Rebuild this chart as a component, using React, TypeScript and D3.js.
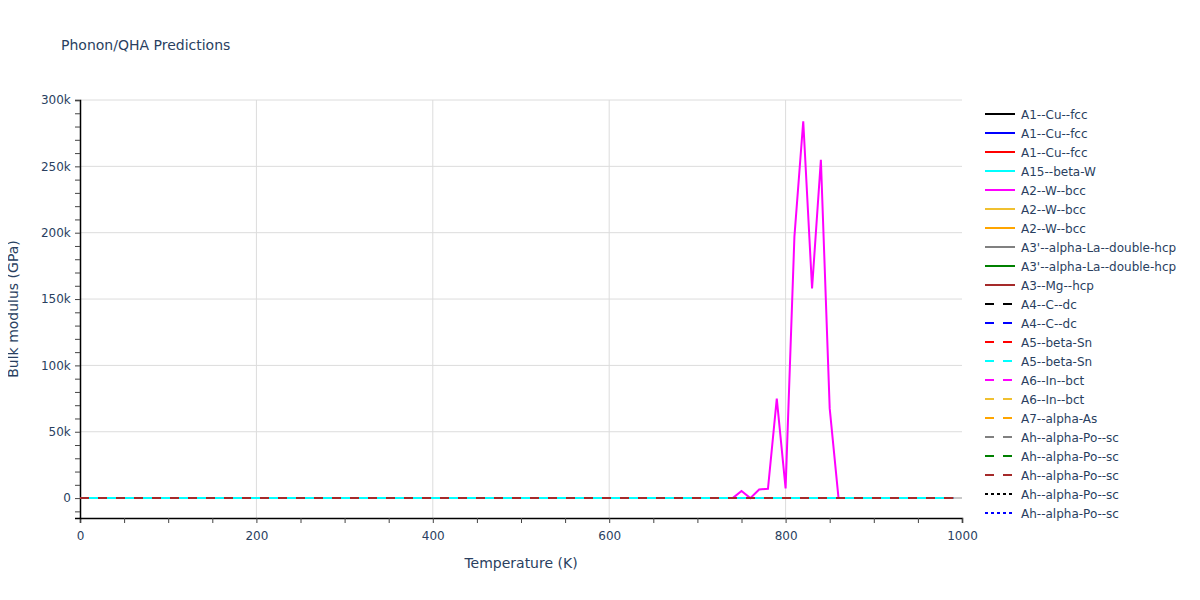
import React, { useEffect, useRef } from 'react';
import * as d3 from 'd3';

type Pt = [number, number];

// legend names in trace order
const names = [
  'A1--Cu--fcc', 'A1--Cu--fcc', 'A1--Cu--fcc', 'A15--beta-W', 'A2--W--bcc', 'A2--W--bcc', 'A2--W--bcc',
  "A3'--alpha-La--double-hcp", "A3'--alpha-La--double-hcp", 'A3--Mg--hcp',
  'A4--C--dc', 'A4--C--dc', 'A5--beta-Sn', 'A5--beta-Sn', 'A6--In--bct', 'A6--In--bct', 'A7--alpha-As',
  'Ah--alpha-Po--sc', 'Ah--alpha-Po--sc', 'Ah--alpha-Po--sc', 'Ah--alpha-Po--sc', 'Ah--alpha-Po--sc',
];
const colors = [
  '#000000', '#0000ff', '#ff0000', '#00ffff', '#ff00ff', '#f0c030', '#ffa500', '#808080', '#008000', '#a52a2a',
  '#000000', '#0000ff', '#ff0000', '#00ffff', '#ff00ff', '#f0c030', '#ffa500', '#808080', '#008000', '#a52a2a',
  '#000000', '#0000ff',
];
const dashes = [
  'solid', 'solid', 'solid', 'solid', 'solid', 'solid', 'solid', 'solid', 'solid', 'solid',
  'dash', 'dash', 'dash', 'dash', 'dash', 'dash', 'dash', 'dash', 'dash', 'dash',
  'dot', 'dot',
];

// flat series (bulk modulus ~0 across the range)
const flat: Pt[] = [[0, 0], [990, 0]];
// the A2--W--bcc (magenta) spike
const spike: Pt[] = [
  [740, 0], [750, 5300], [760, 0], [770, 6500], [780, 7000], [790, 75000], [800, 7300],
  [810, 197000], [820, 284000], [830, 158000], [840, 255000], [850, 67600], [860, 0],
];
const seriesData: Pt[][] = [
  flat, flat, flat, flat, spike, [], [], [], [], [],
  flat, flat, flat, flat, flat, flat, flat, flat, flat, flat,
  [], [],
];

const xTicks = [0, 200, 400, 600, 800, 1000];
const yTicks = [0, 50000, 100000, 150000, 200000, 250000, 300000];

const W = 1200, H = 600;
const margin = { left: 80, right: 238, top: 100, bottom: 82 };

const dashArray = (d: string) => (d === 'dash' ? '9,9' : d === 'dot' ? '3,3' : null);

const App: React.FC = () => {
  const svgRef = useRef<SVGSVGElement>(null);

  useEffect(() => {
    if (!svgRef.current) return;
    const svg = d3.select(svgRef.current);
    svg.selectAll('*').remove();
    const font = 'Verdana, "DejaVu Sans", sans-serif';
    const textColor = '#2a3f5f';

    const x = d3.scaleLinear().domain([0, 1000]).range([margin.left, W - margin.right]);
    const y = d3.scaleLinear().domain([-15000, 300000]).range([H - margin.bottom, margin.top]);

    // grid
    const grid = svg.append('g');
    grid.selectAll('.vg').data(xTicks.filter(t => t > 0 && t < 1000)).enter().append('line')
      .attr('x1', d => x(d)).attr('x2', d => x(d))
      .attr('y1', margin.top).attr('y2', H - margin.bottom)
      .attr('stroke', '#dcdcdc').attr('stroke-width', 1);
    grid.selectAll('.hg').data(yTicks.filter(t => t > 0)).enter().append('line')
      .attr('x1', margin.left).attr('x2', W - margin.right)
      .attr('y1', d => y(d)).attr('y2', d => y(d))
      .attr('stroke', '#dcdcdc').attr('stroke-width', 1);
    // zero line
    grid.append('line')
      .attr('x1', margin.left).attr('x2', W - margin.right)
      .attr('y1', y(0)).attr('y2', y(0))
      .attr('stroke', '#c8c8c8').attr('stroke-width', 2);

    // axes
    const xAxis = d3.axisBottom(x).tickValues(d3.range(0, 1001, 50)).tickSize(5)
      .tickFormat(d => (xTicks.includes(+d) ? String(d) : ''));
    const gx = svg.append('g').attr('transform', `translate(0,${H - margin.bottom})`).call(xAxis);
    gx.select('.domain').attr('stroke', '#000').attr('stroke-width', 1.5);
    gx.selectAll('.tick line').attr('stroke', '#444');
    gx.selectAll('text').attr('fill', textColor).style('font-size', '12px').style('font-family', font).attr('dy', '1.2em');

    const yAxis = d3.axisLeft(y).tickValues(d3.range(-10000, 300001, 10000)).tickSize(5)
      .tickFormat(d => (yTicks.includes(+d) ? (+d === 0 ? '0' : `${+d / 1000}k`) : ''));
    const gy = svg.append('g').attr('transform', `translate(${margin.left},0)`).call(yAxis);
    gy.select('.domain').attr('stroke', '#000').attr('stroke-width', 1.5);
    gy.selectAll('.tick line').attr('stroke', '#444');
    gy.selectAll('text').attr('fill', textColor).style('font-size', '12px').style('font-family', font).attr('dx', '-0.1em');

    // lines
    const line = d3.line<Pt>().x(d => x(d[0])).y(d => y(d[1]));
    const plot = svg.append('g');
    seriesData.forEach((data, i) => {
      if (!data.length) return;
      plot.append('path').datum(data)
        .attr('d', line)
        .attr('fill', 'none')
        .attr('stroke', colors[i])
        .attr('stroke-width', 2)
        .attr('stroke-dasharray', dashArray(dashes[i]));
    });

    // legend
    const lg = svg.append('g').attr('transform', 'translate(985,114)');
    names.forEach((n, i) => {
      const row = lg.append('g').attr('transform', `translate(0,${i * 19})`);
      row.append('line').attr('x1', 0).attr('x2', 30).attr('y1', 0).attr('y2', 0)
        .attr('stroke', colors[i]).attr('stroke-width', 2)
        .attr('stroke-dasharray', dashArray(dashes[i]));
      row.append('text').attr('x', 36).attr('y', 4.5)
        .attr('fill', textColor).style('font-size', '12px').style('font-family', font).text(n);
    });

    // titles
    svg.append('text').attr('x', 61).attr('y', 50).attr('fill', textColor)
      .style('font-size', '14px').style('font-family', font).text('Phonon/QHA Predictions');
    svg.append('text').attr('x', (margin.left + W - margin.right) / 2).attr('y', 568)
      .attr('text-anchor', 'middle').attr('fill', textColor)
      .style('font-size', '14px').style('font-family', font).text('Temperature (K)');
    svg.append('text')
      .attr('transform', `translate(18,${(margin.top + H - margin.bottom) / 2}) rotate(-90)`)
      .attr('text-anchor', 'middle').attr('fill', textColor)
      .style('font-size', '14px').style('font-family', font).text('Bulk modulus (GPa)');
  }, []);

  return (
    <div style={{ width: W, height: H, margin: -8, background: '#fff' }}>
      <svg ref={svgRef} width={W} height={H} />
    </div>
  );
};

export default App;
